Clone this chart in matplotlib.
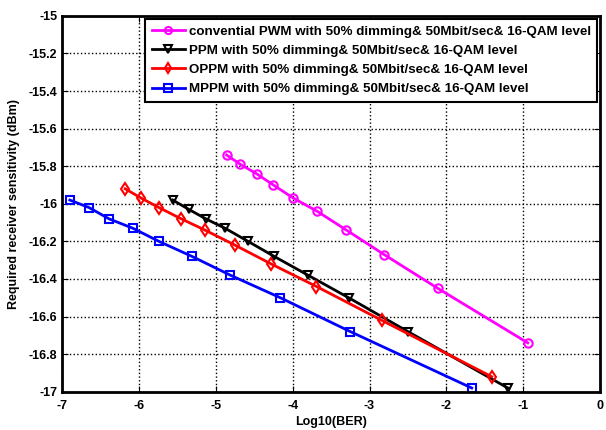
import numpy as np
import matplotlib.pyplot as plt

plt.rcParams['font.family'] = ['Liberation Sans', 'DejaVu Sans']
plt.rcParams['font.weight'] = 'bold'
plt.rcParams['axes.unicode_minus'] = False

# log10(BER) and receiver sensitivity (dBm)
pwm_x = [-4.86, -4.68, -4.47, -4.25, -3.99, -3.68, -3.30, -2.81, -2.11, -0.94]
pwm_y = [-15.74, -15.79, -15.84, -15.90, -15.97, -16.04, -16.14, -16.27, -16.45, -16.74]

ppm_x = [-5.56, -5.35, -5.13, -4.88, -4.58, -4.24, -3.80, -3.27, -2.50, -1.20]
ppm_y = [-15.98, -16.03, -16.08, -16.13, -16.20, -16.28, -16.38, -16.50, -16.68, -16.98]

oppm_x = [-6.18, -5.97, -5.74, -5.45, -5.14, -4.75, -4.28, -3.69, -2.84, -1.41]
oppm_y = [-15.92, -15.97, -16.02, -16.08, -16.14, -16.22, -16.32, -16.44, -16.62, -16.92]

mppm_x = [-6.90, -6.65, -6.39, -6.08, -5.74, -5.31, -4.81, -4.16, -3.25, -1.67]
mppm_y = [-15.98, -16.02, -16.08, -16.13, -16.20, -16.28, -16.38, -16.50, -16.68, -16.98]

labels = [
    "convential PWM with 50% dimming& 50Mbit/sec& 16-QAM level",
    "PPM with 50% dimming& 50Mbit/sec& 16-QAM level",
    "OPPM with 50% dimming& 50Mbit/sec& 16-QAM level",
    "MPPM with 50% dimming& 50Mbit/sec& 16-QAM level",
]

fig = plt.figure(figsize=(6.06, 4.30), dpi=100)
ax = fig.add_axes([0.1026, 0.089, 0.8875, 0.874])

style = dict(lw=2, ms=6, mfc='none', mew=1.5)
ax.plot(pwm_x, pwm_y, 'o-', color='#ff00ff', label=labels[0], **style)
ax.plot(ppm_x, ppm_y, 'v-', color='black', label=labels[1], **style)
ax.plot(oppm_x, oppm_y, 'd-', color='red', label=labels[2], **style)
ax.plot(mppm_x, mppm_y, 's-', color='blue', label=labels[3], **style)

ax.set_xlim(-7, 0)
ax.set_ylim(-17, -15)
ax.set_xticks(np.arange(-7, 1, 1))
ax.set_yticks(np.arange(-17, -14.9, 0.2))
ax.set_yticklabels(["%g" % round(v, 1) for v in np.arange(-17, -14.9, 0.2)])
ax.grid(True, color='black', linestyle=':', linewidth=1)
ax.tick_params(direction='in', top=True, right=True, length=4, labelsize=9)
ax.tick_params(axis='x', pad=6)
for s in ax.spines.values():
    s.set_linewidth(2)

ax.set_xlabel("Log10(BER)", fontsize=9, fontweight='bold', labelpad=3)
ax.set_ylabel("Required receiver sensitivity (dBm)", fontsize=9, fontweight='bold', labelpad=6)

leg = ax.legend(loc='upper right', fontsize=9.6, fancybox=False, framealpha=1,
                edgecolor='black', borderpad=0.5, labelspacing=0.52,
                handlelength=2.45, handletextpad=0.3, borderaxespad=0.2,
                markerscale=0.85)
leg.get_frame().set_linewidth(1.5)
for t in leg.get_texts():
    t.set_fontweight('bold')

fig.savefig("out.png", dpi=100)
